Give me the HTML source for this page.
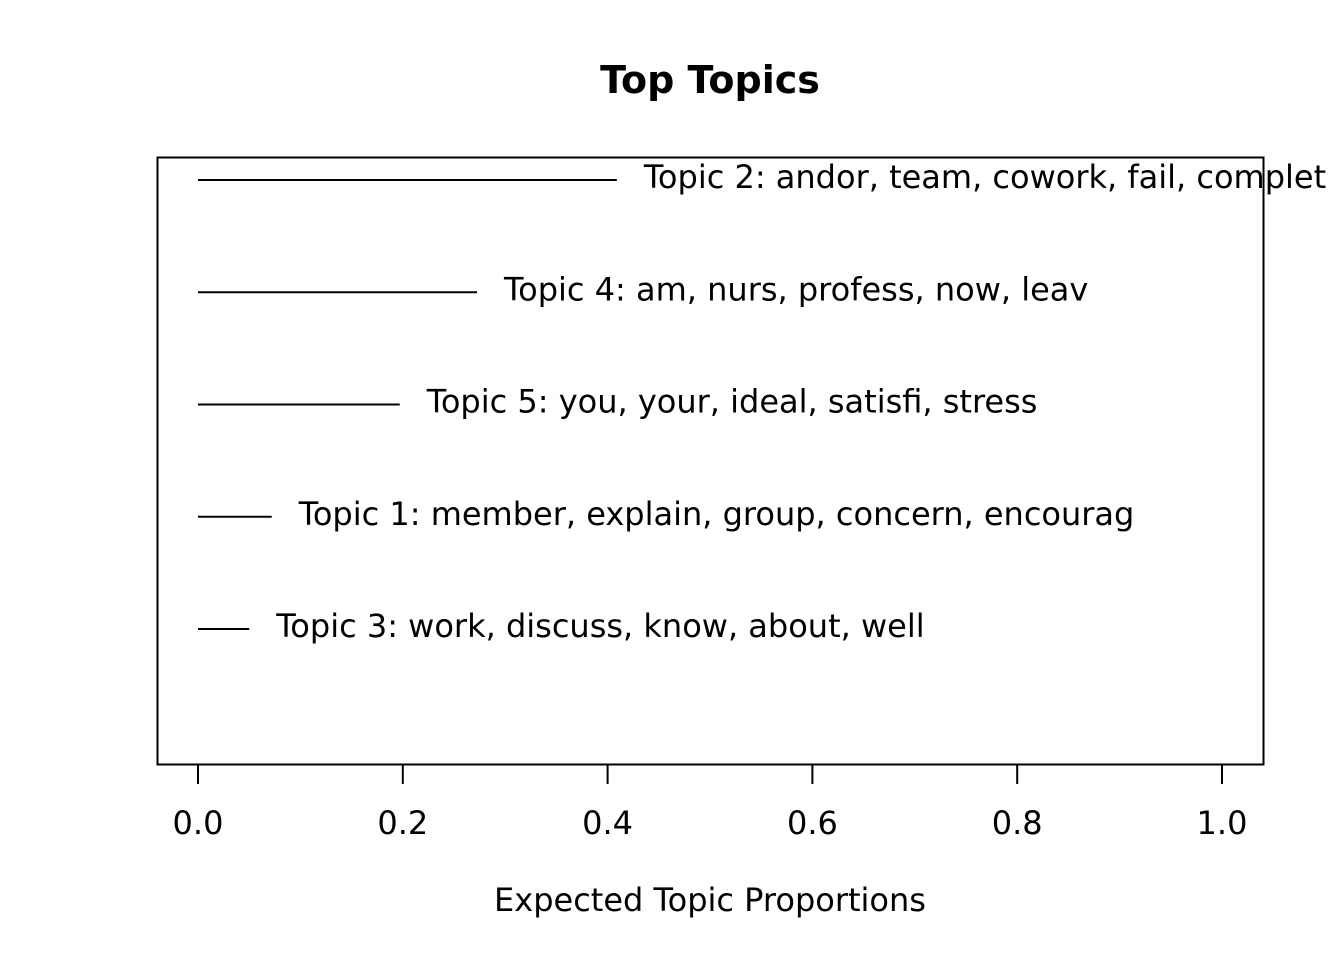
<!DOCTYPE html>
<html>
<head>
<meta charset="utf-8">
<style>
html,body{margin:0;padding:0;background:#fff;}
svg{display:block;font-family:"DejaVu Sans","Liberation Sans",sans-serif;}
</style>
</head>
<body>
<svg id="chart" width="1344" height="960" viewBox="0 0 1344 960" xmlns="http://www.w3.org/2000/svg">
<text x="710" y="93" text-anchor="middle" font-size="38" font-weight="bold">Top Topics</text>
<rect x="157.5" y="157.5" width="1106" height="607" fill="none" stroke="#000" stroke-width="2"/>
<g id="marks"></g>
<g id="xaxis"></g>
<text x="710" y="911" text-anchor="middle" font-size="32">Expected Topic Proportions</text>
</svg>
<script>
const topicLabels = ["Topic 2: andor, team, cowork, fail, complet","Topic 4: am, nurs, profess, now, leav","Topic 5: you, your, ideal, satisfi, stress","Topic 1: member, explain, group, concern, encourag","Topic 3: work, discuss, know, about, well"];
const proportions = [0.409, 0.2725, 0.197, 0.072, 0.050];
const xTicks = [0, 0.2, 0.4, 0.6, 0.8, 1.0];
const xTickLabels = ["0.0","0.2","0.4","0.6","0.8","1.0"];

const NS = "http://www.w3.org/2000/svg";
const x = v => 198 + v * 1024;
const y = i => 180 + i * 112.25;
const marks = document.getElementById('marks');
proportions.forEach((p, i) => {
  const l = document.createElementNS(NS, 'line');
  
  
  l.setAttribute('x1', x(0)); l.setAttribute('x2', x(p));
  l.setAttribute('y1', y(i)); l.setAttribute('y2', y(i));
  l.setAttribute('stroke', '#000'); l.setAttribute('stroke-width', '2');
  marks.appendChild(l);
  const t = document.createElementNS(NS, 'text');
  
  
  t.setAttribute('x', x(p) + 27); t.setAttribute('y', y(i) + 8);
  t.setAttribute('font-size', '32');
  t.textContent = topicLabels[i];
  marks.appendChild(t);
});
const ax = document.getElementById('xaxis');
xTicks.forEach((v, i) => {
  const l = document.createElementNS(NS, 'line');
  
  
  l.setAttribute('x1', x(v)); l.setAttribute('x2', x(v));
  l.setAttribute('y1', 764); l.setAttribute('y2', 784);
  l.setAttribute('stroke', '#000'); l.setAttribute('stroke-width', '2');
  ax.appendChild(l);
  const t = document.createElementNS(NS, 'text');
  
  
  t.setAttribute('x', x(v)); t.setAttribute('y', 834);
  t.setAttribute('text-anchor', 'middle'); t.setAttribute('font-size', '32');
  t.textContent = xTickLabels[i];
  ax.appendChild(t);
});
</script>
</body>
</html>
